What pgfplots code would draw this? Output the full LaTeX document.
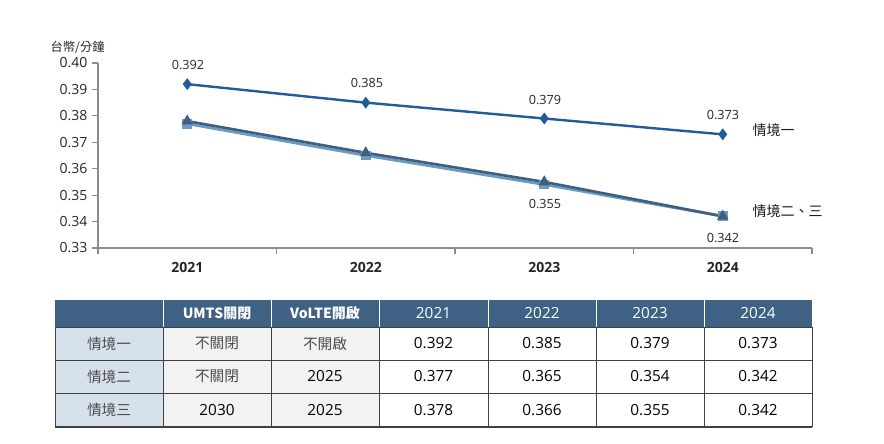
\documentclass[border=0pt]{standalone}
\usepackage{pgfplots}
\pgfplotsset{compat=1.18}
\usepackage{fontspec}
\setmainfont{Open Sans}
\newfontfamily\cjk{Noto Sans CJK TC}
\definecolor{sOne}{HTML}{1F5C99}
\definecolor{sTwo}{HTML}{6B9BC3}
\definecolor{sThree}{HTML}{3E6080}
\definecolor{hdr}{HTML}{3F6183}
\definecolor{firstcol}{HTML}{D7E1EB}
\definecolor{graycol}{HTML}{F2F2F2}
\definecolor{axgray}{HTML}{8C8C8C}
\begin{document}
\begin{tikzpicture}[x=0.75pt,y=0.75pt]
\path[use as bounding box] (0,0) rectangle (884,443);
\begin{axis}[
  at={(73.5pt,146.25pt)}, anchor=south west,
  scale only axis, width=535.5pt, height=138.75pt,
  xmin=-0.5, xmax=3.5, ymin=0.33, ymax=0.40,
  axis x line*=bottom, axis y line*=left,
  axis line style={axgray, line width=0.8pt},
  xtick={-0.5,0.5,1.5,2.5,3.5}, xticklabels={},
  extra x ticks={0,1,2,3},
  extra x tick labels={\textbf{2021},\textbf{2022},\textbf{2023},\textbf{2024}},
  extra x tick style={major tick length=0pt, xticklabel style={yshift=-7pt}},
  ytick={0.33,0.34,...,0.401},
  yticklabel style={/pgf/number format/fixed, /pgf/number format/fixed zerofill, /pgf/number format/precision=2},
  /pgf/number format/assume math mode=true,
  tick style={axgray, line width=0.8pt},
  major tick length=4.5pt,
  xtick pos=bottom, ytick pos=left,
  tick align=outside,
  ticklabel style={font=\fontsize{10.5}{12}\selectfont, text=black!85},
  clip=false,
]
\addplot[sTwo, line width=2pt, mark=square*, mark size=2.6pt, mark options={solid}]
  coordinates {(0,0.377) (1,0.365) (2,0.354) (3,0.342)};
\addplot[sThree, line width=2pt, mark=triangle*, mark size=3pt, mark options={solid}]
  coordinates {(0,0.378) (1,0.366) (2,0.355) (3,0.342)};
\addplot[sOne, line width=1.8pt, mark=diamond*, mark size=3pt, mark options={solid}]
  coordinates {(0,0.392) (1,0.385) (2,0.379) (3,0.373)};
\end{axis}
% data labels
\begin{scope}[every node/.style={font=\fontsize{9.5}{11}\selectfont, text=black!85}]
\node at (188,378) {0.392};
\node at (367,360) {0.385};
\node at (545,343) {0.379};
\node at (723,328) {0.373};
\node at (545,239) {0.355};
\node at (723,205) {0.342};
\end{scope}
\node[anchor=west, font=\cjk\fontsize{10.5}{12}\selectfont, text=black!90] at (748,313) {情境一};
\node[anchor=west, font=\cjk\fontsize{10.5}{12}\selectfont, text=black!90] at (748,232) {情境二、三};
\node[anchor=west, font=\cjk\fontsize{9.2}{11}\selectfont, text=black!85] at (46,396) {台幣/分鐘};
% table
\fill[hdr] (55,143) rectangle (812,116);
\fill[firstcol] (55,116) rectangle (163,16);
\fill[graycol] (163,116) rectangle (379,16);
\foreach \yy in {116,83,50}{\draw[black!75, line width=0.6pt] (55,\yy) -- (812,\yy);}
\draw[black!75, line width=0.8pt] (55,16) -- (812,16);
\foreach \xx in {163,271,379,488,596,704}{\draw[black!75, line width=0.6pt] (\xx,16) -- (\xx,116);}
\draw[black!75, line width=0.6pt] (55,16) -- (55,116);
\draw[black!75, line width=0.6pt] (812,16) -- (812,116);
\foreach \xx in {163,271,379,488,596,704}{\draw[white, line width=0.6pt] (\xx,116) -- (\xx,143);}
\begin{scope}[every node/.style={font=\fontsize{11.5}{13}\selectfont}]
\node[white, font=\fontsize{10.5}{12}\selectfont\cjk\bfseries] at (217,129.5) {UMTS關閉};
\node[white, font=\fontsize{10.5}{12}\selectfont\cjk\bfseries] at (325,129.5) {VoLTE開啟};
\node[white] at (433.5,129.5) {2021};
\node[white] at (542,129.5) {2022};
\node[white] at (650,129.5) {2023};
\node[white] at (758,129.5) {2024};
\node[black!70, font=\cjk\fontsize{11}{13}\selectfont] at (109,99.5) {情境一};
\node[black!70, font=\cjk\fontsize{11}{13}\selectfont] at (109,66.5) {情境二};
\node[black!70, font=\cjk\fontsize{11}{13}\selectfont] at (109,33) {情境三};
\node[black!70, font=\cjk\fontsize{11}{13}\selectfont] at (217,99.5) {不關閉};
\node[black!70, font=\cjk\fontsize{11}{13}\selectfont] at (217,66.5) {不關閉};
\node at (217,33) {2030};
\node[black!70, font=\cjk\fontsize{11}{13}\selectfont] at (325,99.5) {不開啟};
\node at (325,66.5) {2025};
\node at (325,33) {2025};
\node at (433.5,99.5) {0.392};
\node at (542,99.5) {0.385};
\node at (650,99.5) {0.379};
\node at (758,99.5) {0.373};
\node at (433.5,66.5) {0.377};
\node at (542,66.5) {0.365};
\node at (650,66.5) {0.354};
\node at (758,66.5) {0.342};
\node at (433.5,33) {0.378};
\node at (542,33) {0.366};
\node at (650,33) {0.355};
\node at (758,33) {0.342};
\end{scope}
\end{tikzpicture}
\end{document}
